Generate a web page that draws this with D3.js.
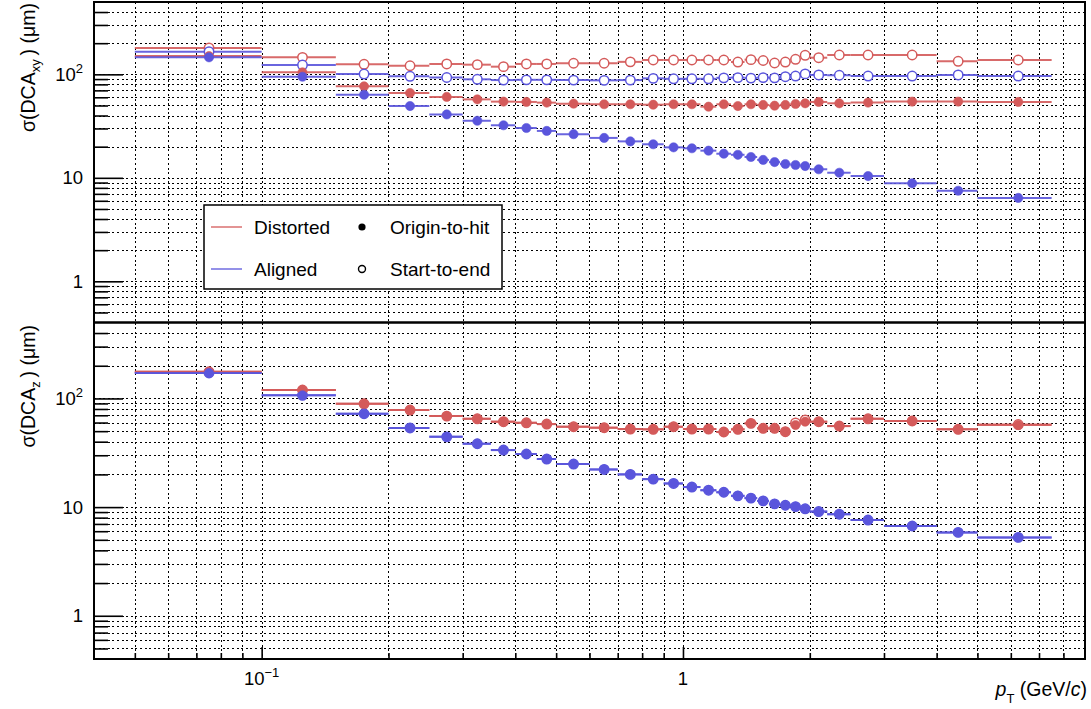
<!DOCTYPE html>
<html><head><meta charset="utf-8">
<script src="https://cdn.jsdelivr.net/npm/d3@7"></script>
<style>
body{margin:0;background:#fff}
svg{display:block}
text{font-family:"Liberation Sans",Arial,Helvetica,sans-serif;fill:#000}
</style>
</head><body>
<svg id="c" width="1091" height="709"></svg>
<script>
// ---------- data ----------
const binLow  = [0.05,0.10,0.15,0.20,0.25,0.30,0.35,0.40,0.45,0.50,0.60,0.70,0.80,0.90,1.00,1.10,1.20,1.30,1.40,1.50,1.60,1.70,1.80,1.90,2.00,2.20,2.50,3.00,4.00,5.00];
const binHigh = [0.10,0.15,0.20,0.25,0.30,0.35,0.40,0.45,0.50,0.60,0.70,0.80,0.90,1.00,1.10,1.20,1.30,1.40,1.50,1.60,1.70,1.80,1.90,2.00,2.20,2.50,3.00,4.00,5.00,7.50];

// sigma(DCA_xy) [um]
const xyDistortedStart  = [180,146,125,121,126,124,118.6,126,126,128,128,132,137.6,137.6,137.6,137.6,137.6,131.5,138.6,136,128.7,131.5,139.7,152.8,144.8,153.8,153.8,153.8,133.6,137.6];
const xyAlignedStart    = [165.5,123,100.7,95.7,93.2,89.5,88,88.5,88.5,88,87.5,88,91.5,90.5,90.5,90.5,92.5,93,92,93,92.5,94.9,96.3,101,98.6,98,96.3,96.3,98.6,96.3];
const xyDistortedOrigin = [150,104.5,76.6,66,60.5,57.3,54.5,54.1,53.3,52.1,51.4,51.4,50.9,51.4,51.4,48.7,51.4,49.4,51.4,50.6,49.8,50.6,51.7,52.5,54.1,52.5,53.3,54.5,54.5,54.1];
const xyAlignedOrigin   = [146,94.8,63.5,49.4,41,35.6,32.2,30.3,28.4,26.4,24.3,22.5,21.1,19.7,19.3,18.3,17.1,16.7,15.9,14.9,14.2,13.6,13.3,13.0,12.1,11.2,10.4,8.85,7.5,6.4];

// sigma(DCA_z) [um]
const zDistortedStart   = [176,119.5,89.3,78.2,68.8,65,61.1,59.7,58.1,54.9,53.8,52.3,52,54.9,52.3,52.3,49.1,52,59,53.1,53.1,49.4,59.5,63.5,61.1,55.7,65,62,52,57.5];
const zAlignedStart     = [171.5,106.9,72.3,53.5,44.3,38.3,33.5,30.8,27.7,24.9,22.2,20.0,18.1,16.5,15.3,14.3,13.7,12.7,12.1,11.4,10.7,10.4,10.1,9.65,9.1,8.6,7.6,6.7,5.85,5.26];
const zDistortedOrigin  = [176,119.5,89.3,78.2,68.8,65,61.1,59.7,58.1,54.9,53.8,52.3,52,54.9,52.3,52.3,49.1,52,59,53.1,53.1,49.4,56.9,61.1,61.1,55.7,65,62,52,56.9];
const zAlignedOrigin    = [171.5,106.9,72.3,53.5,44.3,38.3,33.5,30.8,27.7,24.9,22.2,20.0,18.1,16.5,15.3,14.3,13.7,12.7,12.1,11.4,10.7,10.4,10.1,9.65,9.1,8.6,7.6,6.7,5.85,5.26];

// ticks
const xMajorTicks = [0.1, 1];
const xMinorTicks = [0.05,0.06,0.07,0.08,0.09,0.2,0.3,0.4,0.5,0.6,0.7,0.8,0.9,2,3,4,5,6,7,8];
const xTickLabels = [{v:0.1, base:"10", sup:"\u22121"}, {v:1, base:"1", sup:""}];
const yMajorTicks = [1, 10, 100];
const yMinorTicks = [0.5,0.6,0.7,0.8,0.9,2,3,4,5,6,7,8,9,20,30,40,50,60,70,80,90,200,300,400];
const yTickLabels = [{v:1, base:"1", sup:""}, {v:10, base:"10", sup:""}, {v:100, base:"10", sup:"2"}];

const legendLines   = [{label:"Distorted", color:"red"}, {label:"Aligned", color:"blue"}];
const legendMarkers = [{label:"Origin-to-hit", open:false}, {label:"Start-to-end", open:true}];

// ---------- setup ----------
const COLORS = {red:"#d45a5a", blue:"#5a55dc"};
const svg = d3.select("#c");
svg.append("rect").attr("width",1091).attr("height",709).attr("fill","#fff");

const L = 94, R = 1085, T = 2, MID = 322.5, B = 659;
const x = d3.scaleLog().domain([0.04, 9]).range([L, R]);
const yTop = d3.scaleLog().domain([0.4, 500]).range([MID, T]);
const yBot = d3.scaleLog().domain([0.4, 500]).range([B, MID]);

function grid(g, y, y0, y1) {
  const gv = xMajorTicks.concat(xMinorTicks);
  g.selectAll(null).data(gv).enter().append("line")
    .attr("x1", d => Math.round(x(d)) + 0.5).attr("x2", d => Math.round(x(d)) + 0.5).attr("y1", y0).attr("y2", y1)
    .attr("stroke","#000").attr("stroke-width",1.2).attr("stroke-dasharray","2,2.6")
    .attr("shape-rendering","crispEdges");
  const hv = yMajorTicks.concat(yMinorTicks);
  g.selectAll(null).data(hv).enter().append("line")
    .attr("x1", L).attr("x2", R).attr("y1", d => Math.round(y(d)) + 0.5).attr("y2", d => Math.round(y(d)) + 0.5)
    .attr("stroke","#000").attr("stroke-width",1.2).attr("stroke-dasharray","2,2.6")
    .attr("shape-rendering","crispEdges");
}

function yAxis(g, y) {
  const a1 = g.append("g").attr("transform",`translate(${L},0)`)
    .call(d3.axisRight(y).tickValues(yMajorTicks).tickSize(29).tickSizeOuter(0).tickFormat(""));
  const a2 = g.append("g").attr("transform",`translate(${L},0)`)
    .call(d3.axisRight(y).tickValues(yMinorTicks).tickSize(14).tickSizeOuter(0).tickFormat(""));
  [a1,a2].forEach(a => { a.select(".domain").remove(); a.selectAll("line").attr("stroke","#000").attr("stroke-width",1.6); });
  yTickLabels.forEach(t => {
    const tx = g.append("text").attr("x", 83).attr("y", y(t.v) + 6.5)
      .attr("text-anchor","end").style("font-size","18.5px").text(t.base);
    if (t.sup) tx.append("tspan").attr("dy",-8).style("font-size","13px").text(t.sup);
  });
}

function series(g, y, vals, color, open) {
  const col = COLORS[color];
  const gg = g.append("g");
  gg.selectAll(null).data(vals).enter().append("line")
    .attr("x1", (d,i) => x(binLow[i])).attr("x2", (d,i) => x(binHigh[i]))
    .attr("y1", d => y(d)).attr("y2", d => y(d))
    .attr("stroke", col).attr("stroke-width", 2).attr("opacity", 0.9);
  gg.selectAll(null).data(vals).enter().append("circle")
    .attr("cx", (d,i) => x((binLow[i]+binHigh[i])/2)).attr("cy", d => y(d))
    .attr("r", open ? 4.7 : 4.6)
    .attr("fill", open ? "#fff" : col)
    .attr("stroke", col).attr("stroke-width", open ? 1.5 : 0.6);
}

// ---------- top panel ----------
const gTop = svg.append("g");
grid(gTop, yTop, T, MID);
yAxis(gTop, yTop);
series(gTop, yTop, xyDistortedStart, "red", true);
series(gTop, yTop, xyAlignedStart, "blue", true);
series(gTop, yTop, xyDistortedOrigin, "red", false);
series(gTop, yTop, xyAlignedOrigin, "blue", false);

// ---------- bottom panel ----------
const gBot = svg.append("g");
grid(gBot, yBot, MID, B);
yAxis(gBot, yBot);
series(gBot, yBot, zDistortedStart, "red", true);
series(gBot, yBot, zAlignedStart, "blue", true);
series(gBot, yBot, zDistortedOrigin, "red", false);
series(gBot, yBot, zAlignedOrigin, "blue", false);

// ---------- x axis (bottom) ----------
const xa1 = svg.append("g").attr("transform",`translate(0,${B})`)
  .call(d3.axisTop(x).tickValues(xMajorTicks).tickSize(12).tickSizeOuter(0).tickFormat(""));
const xa2 = svg.append("g").attr("transform",`translate(0,${B})`)
  .call(d3.axisTop(x).tickValues(xMinorTicks).tickSize(6).tickSizeOuter(0).tickFormat(""));
[xa1,xa2].forEach(a => { a.select(".domain").remove(); a.selectAll("line").attr("stroke","#000").attr("stroke-width",1.6); });
xTickLabels.forEach(t => {
  const tx = svg.append("text").attr("x", x(t.v)).attr("y", 685)
    .attr("text-anchor","middle").style("font-size","18.5px").text(t.base);
  if (t.sup) tx.append("tspan").attr("dy",-8).style("font-size","13px").text(t.sup);
});

// frames
svg.append("rect").attr("x",L).attr("y",T).attr("width",R-L).attr("height",MID-T)
  .attr("fill","none").attr("stroke","#000").attr("stroke-width",2);
svg.append("rect").attr("x",L).attr("y",MID).attr("width",R-L).attr("height",B-MID)
  .attr("fill","none").attr("stroke","#000").attr("stroke-width",2);

// axis titles
function yTitle(top, sub) {
  const t = svg.append("text").attr("transform",`translate(35,${top}) rotate(-90)`)
    .attr("text-anchor","end").style("font-size","19.5px");
  t.append("tspan").text("\u03c3(DCA");
  t.append("tspan").attr("dy",5).style("font-size","13px").text(sub);
  t.append("tspan").attr("dy",-5).text("\u2009) (\u03bcm)");
}
yTitle(3, "xy");
yTitle(325, "z");

const xt = svg.append("text").attr("x",1087).attr("y",696).attr("text-anchor","end").style("font-size","19.5px");
xt.append("tspan").style("font-style","italic").text("p");
xt.append("tspan").attr("dy",7).style("font-size","13px").text("T");
xt.append("tspan").attr("dy",-7).text(" (GeV/");
xt.append("tspan").style("font-style","italic").text("c");
xt.append("tspan").text(")");

// legend
const lg = svg.append("g");
lg.append("rect").attr("x",204).attr("y",205).attr("width",298).attr("height",84)
  .attr("fill","#fff").attr("stroke","#000").attr("stroke-width",1.5);
const rowY = [227, 269];
legendLines.forEach((e,i) => {
  lg.append("line").attr("x1",211).attr("x2",242).attr("y1",rowY[i]).attr("y2",rowY[i])
    .attr("stroke",COLORS[e.color]).attr("stroke-width",1.3);
  lg.append("text").attr("x",254).attr("y",rowY[i]+7).style("font-size","19px").text(e.label);
});
legendMarkers.forEach((e,i) => {
  lg.append("circle").attr("cx",362).attr("cy",rowY[i]).attr("r", e.open ? 3.5 : 3.6)
    .attr("fill", e.open ? "#fff" : "#000").attr("stroke","#000").attr("stroke-width", e.open ? 1.4 : 0);
  lg.append("text").attr("x",390).attr("y",rowY[i]+7).style("font-size","19px").text(e.label);
});
</script>
</body></html>
